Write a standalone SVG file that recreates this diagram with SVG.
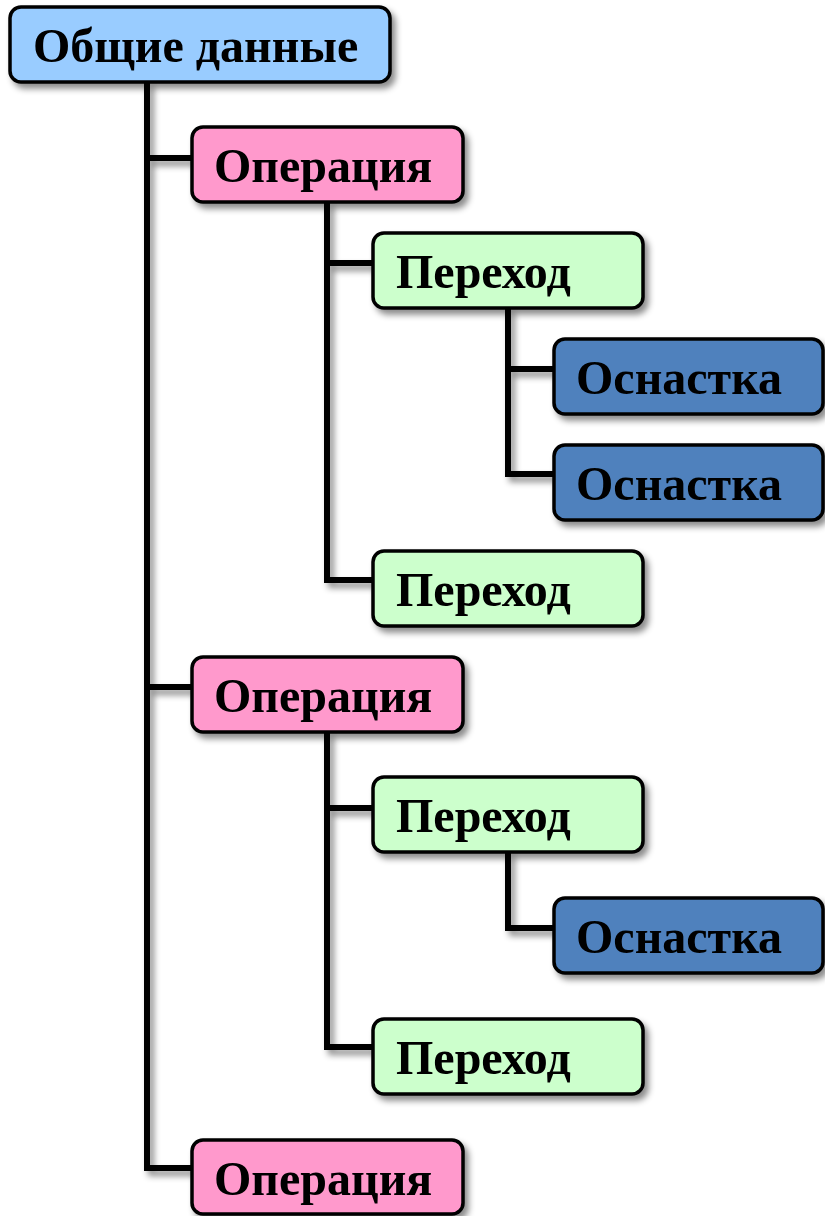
<svg xmlns="http://www.w3.org/2000/svg" width="825" height="1216" viewBox="0 0 825 1216">
  <defs>
    <filter id="shadow" x="-10%" y="-10%" width="130%" height="140%">
      <feDropShadow dx="4" dy="5" stdDeviation="3" flood-color="#000" flood-opacity="0.45"/>
    </filter>
    <style>
      .box rect { stroke: #000; stroke-width: 3.5; }
      .box text { font-family: "Liberation Serif", "Times New Roman", serif; font-weight: bold; font-size: 48px; fill: #000; }
      .root rect { fill: #99ccff; }
      .op rect { fill: #ff99cc; }
      .step rect { fill: #ccffcc; }
      .tool rect { fill: #4f81bd; }
      #connectors path { fill: none; stroke: #000; stroke-width: 6; stroke-linejoin: miter; }
    </style>
  </defs>

  <!-- tree connectors -->
  <g id="connectors" filter="url(#shadow)">
    <path d="M147 82 V1168 H192 M147 158 H192 M147 687 H192"/>
    <path d="M327 202 V580 H373 M327 263 H373"/>
    <path d="M508 308 V474 H554 M508 369 H554"/>
    <path d="M327 732 V1047 H373 M327 808 H373"/>
    <path d="M508 852 V928 H554"/>
  </g>

  <!-- nodes -->
  <g id="node-root" class="box root" filter="url(#shadow)">
    <rect x="10" y="7" width="380" height="75" rx="11"/>
    <text x="33" y="62">Общие данные</text>
  </g>

  <g id="node-op1" class="box op" filter="url(#shadow)">
    <rect x="192" y="127" width="271" height="75" rx="11"/>
    <text x="214" y="182">Операция</text>
  </g>
  <g id="node-step1" class="box step" filter="url(#shadow)">
    <rect x="373" y="233" width="270" height="75" rx="11"/>
    <text x="396" y="288">Переход</text>
  </g>
  <g id="node-tool1" class="box tool" filter="url(#shadow)">
    <rect x="554" y="339" width="269" height="75" rx="11"/>
    <text x="576" y="394">Оснастка</text>
  </g>
  <g id="node-tool2" class="box tool" filter="url(#shadow)">
    <rect x="554" y="445" width="269" height="75" rx="11"/>
    <text x="576" y="500">Оснастка</text>
  </g>
  <g id="node-step2" class="box step" filter="url(#shadow)">
    <rect x="373" y="551" width="270" height="75" rx="11"/>
    <text x="396" y="606">Переход</text>
  </g>

  <g id="node-op2" class="box op" filter="url(#shadow)">
    <rect x="192" y="657" width="271" height="75" rx="11"/>
    <text x="214" y="712">Операция</text>
  </g>
  <g id="node-step3" class="box step" filter="url(#shadow)">
    <rect x="373" y="777" width="270" height="75" rx="11"/>
    <text x="396" y="832">Переход</text>
  </g>
  <g id="node-tool3" class="box tool" filter="url(#shadow)">
    <rect x="554" y="898" width="269" height="75" rx="11"/>
    <text x="576" y="953">Оснастка</text>
  </g>
  <g id="node-step4" class="box step" filter="url(#shadow)">
    <rect x="373" y="1019" width="270" height="75" rx="11"/>
    <text x="396" y="1074">Переход</text>
  </g>

  <g id="node-op3" class="box op" filter="url(#shadow)">
    <rect x="192" y="1140" width="271" height="74" rx="11"/>
    <text x="214" y="1195">Операция</text>
  </g>
</svg>
